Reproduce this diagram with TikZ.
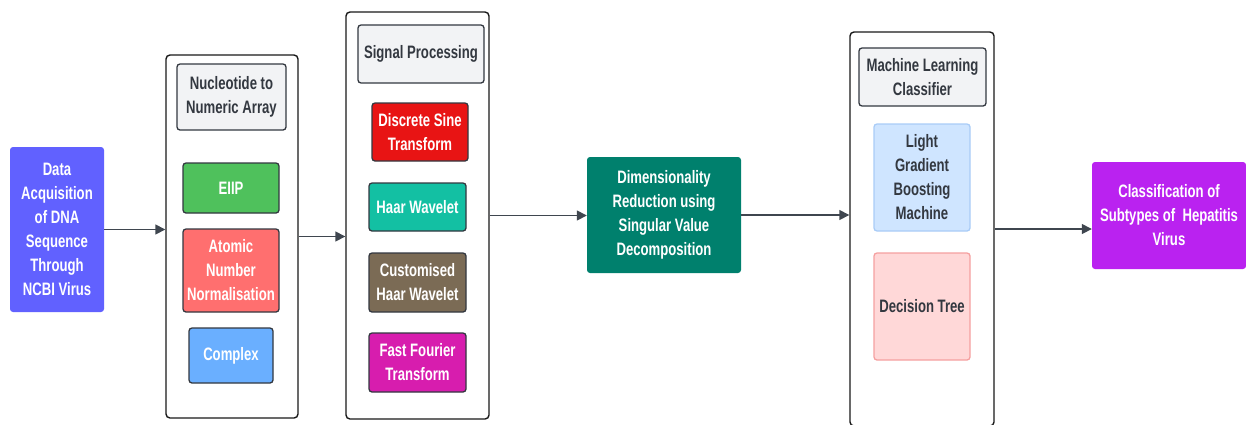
\documentclass[tikz,border=0pt]{standalone}
\usepackage{fontspec}
\setmainfont{Liberation Sans}[FakeStretch=0.73]
\usetikzlibrary{arrows.meta}
\definecolor{cdata}{HTML}{6161FF}
\definecolor{ceiip}{HTML}{4FC15C}
\definecolor{catom}{HTML}{FF6F6F}
\definecolor{ccplx}{HTML}{6AAFFF}
\definecolor{cdst}{HTML}{E81414}
\definecolor{chaar}{HTML}{13C0A3}
\definecolor{ccust}{HTML}{7B6B55}
\definecolor{cfft}{HTML}{D71DAE}
\definecolor{cdr}{HTML}{00806D}
\definecolor{cout}{HTML}{BA22F0}
\definecolor{ctitle}{HTML}{F2F3F5}
\definecolor{clgbm}{HTML}{CFE5FF}
\definecolor{clgbmb}{HTML}{A9CCF7}
\definecolor{cdt}{HTML}{FFD8D8}
\definecolor{cdtb}{HTML}{F5A0A0}
\definecolor{cdark}{HTML}{333840}
\definecolor{carrow}{HTML}{3F464F}
\tikzset{
  txt/.style={font=\fontsize{18}{24}\selectfont\bfseries, align=center, inner sep=0pt},
  solid box/.style={txt, rounded corners=3pt, text=white, draw=none},
  out box/.style={txt, rounded corners=3pt, text=white, draw=cdark, line width=1.3pt},
  title box/.style={txt, rounded corners=3pt, text=cdark, fill=ctitle, draw=cdark, line width=1.3pt},
  container/.style={rounded corners=4pt, draw=black!90, line width=1.4pt, inner sep=0pt},
  flow/.style={draw=carrow, line width=1.5pt, -{Triangle[length=10pt,width=10pt]}},
}
\begin{document}
\begin{tikzpicture}[x=1pt,y=-1pt]
\useasboundingbox (0,0) rectangle (1246,424);
% left input
\node[solid box, fill=cdata, minimum width=94pt, minimum height=165pt] (data) at (57,229.5)
  {Data\\Acquisition\\of DNA\\Sequence\\Through\\NCBI Virus};
% container 1
\node[container, minimum width=132pt, minimum height=363pt] (c1) at (232,236.5) {};
\node[title box, minimum width=109pt, minimum height=66pt] (t1) at (231.5,97) {Nucleotide to\\Numeric Array};
\node[out box, fill=ceiip, minimum width=96pt, minimum height=50pt] (eiip) at (231,188) {EIIP};
\node[out box, fill=catom, minimum width=96pt, minimum height=83pt] (atom) at (231,270.5) {Atomic\\Number\\Normalisation};
\node[out box, fill=ccplx, minimum width=84pt, minimum height=55pt] (cplx) at (231,355.5) {Complex};
% container 2
\node[container, minimum width=143pt, minimum height=407pt] (c2) at (417.5,215.5) {};
\node[title box, minimum width=126pt, minimum height=58pt] (t2) at (421,54) {Signal Processing};
\node[out box, fill=cdst, minimum width=96pt, minimum height=58pt] (dst) at (420,132) {Discrete Sine\\Transform};
\node[out box, fill=chaar, minimum width=97pt, minimum height=48pt] (haar) at (417.5,207) {Haar Wavelet};
\node[out box, fill=ccust, minimum width=97pt, minimum height=59pt] (cust) at (417.5,282.5) {Customised\\Haar Wavelet};
\node[out box, fill=cfft, minimum width=97pt, minimum height=59pt] (fft) at (417.5,362.5) {Fast Fourier\\Transform};
% dimensionality reduction
\node[solid box, fill=cdr, minimum width=154pt, minimum height=116pt] (dr) at (664,215)
  {Dimensionality\\Reduction using\\Singular Value\\Decomposition};
% container 3
\node[container, minimum width=144pt, minimum height=394pt] (c3) at (922,229) {};
\node[title box, minimum width=127pt, minimum height=58pt] (t3) at (922.5,77) {Machine Learning\\Classifier};
\node[txt, rounded corners=3pt, text=cdark, fill=clgbm, draw=clgbmb, line width=1.3pt, minimum width=96pt, minimum height=107pt] (lgbm) at (922,177.5) {Light\\Gradient\\Boosting\\Machine};
\node[txt, rounded corners=3pt, text=cdark, fill=cdt, draw=cdtb, line width=1.3pt, minimum width=96pt, minimum height=107pt] (dt) at (922,306.5) {Decision Tree};
% output
\node[solid box, fill=cout, minimum width=154pt, minimum height=107pt] (out) at (1169,215.5)
  {Classification of\\Subtypes of\ \ Hepatitis\\Virus};
% connectors
\draw[flow] (data.east) -- (data.east -| c1.west);
\draw[flow] (c1.east) -- (c1.east -| c2.west);
\draw[flow] (c2.east) -- (c2.east -| dr.west);
\draw[flow] (dr.east) -- (dr.east -| c3.west);
\draw[flow] (c3.east) -- (c3.east -| out.west);
\end{tikzpicture}
\end{document}
